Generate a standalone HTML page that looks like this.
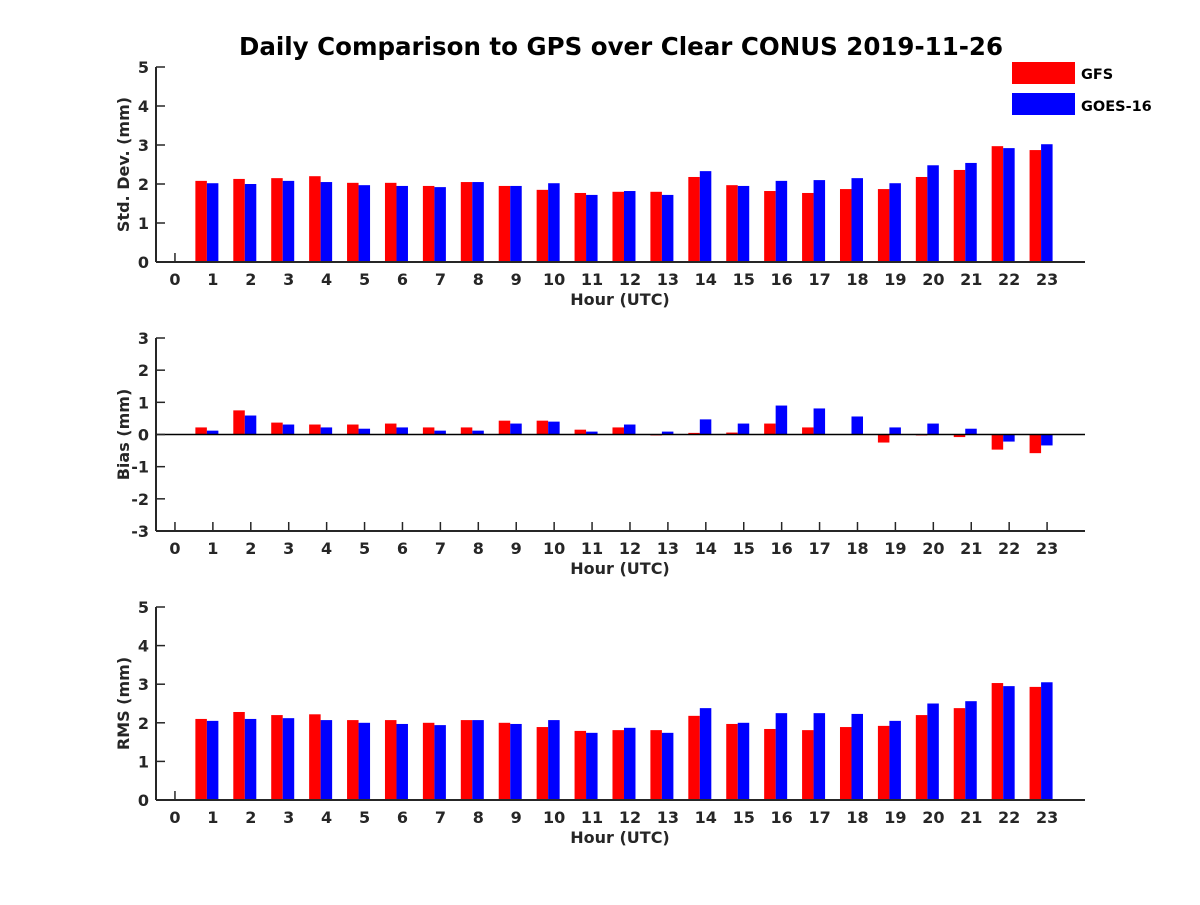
<!DOCTYPE html>
<html><head><meta charset="utf-8"><style>
body{margin:0;background:#fff;}
svg text{font-family:"DejaVu Sans","Liberation Sans",sans-serif;font-weight:bold;fill:#262626;}
</style></head><body>
<svg id="c" width="1200" height="900" xmlns="http://www.w3.org/2000/svg">
<text x="621" y="55" font-size="24.5" text-anchor="middle" style="fill:#000">Daily Comparison to GPS over Clear CONUS 2019-11-26</text>
<rect x="1012" y="62" width="63" height="22" fill="#ff0000"/>
<text x="1081" y="79" font-size="14.5" style="fill:#000">GFS</text>
<rect x="1012" y="93" width="63" height="22" fill="#0000ff"/>
<text x="1081" y="111" font-size="14.5" style="fill:#000">GOES-16</text>
</svg>
<script>
const hours=[0,1,2,3,4,5,6,7,8,9,10,11,12,13,14,15,16,17,18,19,20,21,22,23];
const stdGFS=[null,2.08,2.13,2.15,2.2,2.03,2.03,1.95,2.05,1.95,1.85,1.77,1.8,1.8,2.18,1.97,1.82,1.77,1.87,1.87,2.18,2.36,2.97,2.87];
const stdGOES=[null,2.02,2.0,2.08,2.05,1.97,1.95,1.92,2.05,1.95,2.02,1.72,1.82,1.72,2.33,1.95,2.08,2.1,2.15,2.02,2.48,2.54,2.92,3.02];
const biasGFS=[null,0.22,0.75,0.37,0.31,0.31,0.34,0.22,0.22,0.43,0.43,0.15,0.22,-0.03,0.05,0.06,0.34,0.22,0,-0.25,-0.03,-0.08,-0.47,-0.58];
const biasGOES=[null,0.12,0.59,0.31,0.22,0.18,0.22,0.12,0.12,0.34,0.4,0.09,0.31,0.09,0.47,0.34,0.9,0.81,0.56,0.22,0.34,0.18,-0.22,-0.34];
const rmsGFS=[null,2.1,2.28,2.2,2.22,2.07,2.07,2.0,2.07,2.0,1.89,1.79,1.81,1.81,2.18,1.97,1.84,1.81,1.89,1.92,2.2,2.38,3.03,2.93];
const rmsGOES=[null,2.05,2.1,2.12,2.07,2.0,1.97,1.94,2.07,1.97,2.07,1.74,1.87,1.74,2.38,2.0,2.25,2.25,2.23,2.05,2.5,2.56,2.95,3.05];
const stdTicks=[0,1,2,3,4,5], biasTicks=[-3,-2,-1,0,1,2,3], rmsTicks=[0,1,2,3,4,5];
const svg=document.getElementById('c');
const NS='http://www.w3.org/2000/svg';
function mk(t,a){const e=document.createElementNS(NS,t);for(const k in a)e.setAttribute(k,a[k]);svg.appendChild(e);return e;}
const X0=156,X1=1085;
const xs=h=>X0+(h+0.5)/24.5*(X1-X0);
function panel(key,top,bot,ymin,ymax,ticks,ylabel,g,b){
  const ys=v=>bot-(v-ymin)/(ymax-ymin)*(bot-top);
  const bw=11.5;
  hours.forEach(h=>{
    mk('line',{x1:xs(h),y1:bot,x2:xs(h),y2:bot-9,stroke:'#262626','stroke-width':1.5});
  });
  hours.forEach((h,i)=>{
    [[g,'#ff0000',-17.5,'gfs'],[b,'#0000ff',-6,'goes']].forEach(([arr,col,off,n])=>{
      const v=arr[i]; if(v===null)return;
      const base=ymin<0?ys(0):ys(ymin);
      const y=ys(v);
      const r=mk('rect',{x:xs(h)+off,y:Math.min(y,base),width:bw,height:Math.abs(base-y),fill:col});
      
      
    });
  });
  let l=mk('line',{x1:X0,y1:top,x2:X0,y2:bot,stroke:'#262626','stroke-width':2});
  
  l=mk('line',{x1:X0,y1:bot,x2:X1,y2:bot,stroke:'#262626','stroke-width':2});
  
  if(ymin<0){l=mk('line',{x1:X0,y1:ys(0),x2:X1,y2:ys(0),stroke:'#000','stroke-width':1.5});
    }
  ticks.forEach(t=>{
    mk('line',{x1:X0,y1:ys(t),x2:X0+9,y2:ys(t),stroke:'#262626','stroke-width':1.5});
    const tx=mk('text',{x:X0-7,y:ys(t)+6,'font-size':16,'text-anchor':'end'});tx.textContent=t;
    
  });
  hours.forEach(h=>{
    const tx=mk('text',{x:xs(h),y:bot+23,'font-size':16,'text-anchor':'middle'});tx.textContent=h;
    
  });
  let t=mk('text',{x:620,y:bot+43,'font-size':16,'text-anchor':'middle'});t.textContent='Hour (UTC)';
  
  const cy=(top+bot)/2;
  t=mk('text',{x:0,y:0,'font-size':16,'text-anchor':'middle',transform:`translate(129,${cy}) rotate(-90)`});t.textContent=ylabel;
  
}
panel('std',67,262,0,5,stdTicks,'Std. Dev. (mm)',stdGFS,stdGOES);
panel('bias',338,531,-3,3,biasTicks,'Bias (mm)',biasGFS,biasGOES);
panel('rms',607,800,0,5,rmsTicks,'RMS (mm)',rmsGFS,rmsGOES);
</script>
</body></html>
